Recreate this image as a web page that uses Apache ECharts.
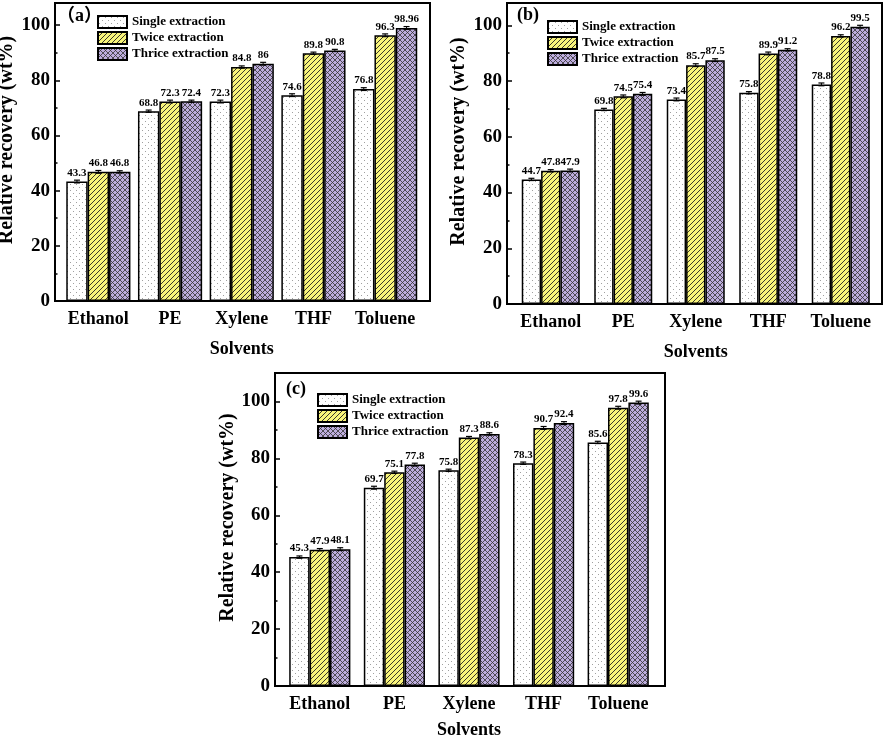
<!DOCTYPE html>
<html>
<head>
<meta charset="utf-8">
<script src="https://cdn.jsdelivr.net/npm/echarts@6/dist/echarts.min.js"></script>
<style>
html,body{margin:0;padding:0;background:#fff;}
#chart{width:886px;height:740px;}
</style>
</head>
<body>
<div id="chart"></div>
<script>
// ---------------- DATA ----------------
const categories = ['Ethanol', 'PE', 'Xylene', 'THF', 'Toluene'];
const seriesNames = ['Single extraction', 'Twice extraction', 'Thrice extraction'];
const yTickValues = [0, 20, 40, 60, 80, 100];
const yMinorTickValues = [10, 30, 50, 70, 90];

const aSingle = [43.3, 68.8, 72.3, 74.6, 76.8];
const aTwice  = [46.8, 72.3, 84.8, 89.8, 96.3];
const aThrice = [46.8, 72.4, 86, 90.8, 98.96];
const aSingleErr = [0.5, 0.4, 0.5, 0.5, 0.5];
const aTwiceErr  = [0.5, 0.5, 0.4, 0.4, 0.5];
const aThriceErr = [0.4, 0.4, 0.5, 0.4, 0.5];

const bSingle = [44.7, 69.8, 73.4, 75.8, 78.8];
const bTwice  = [47.8, 74.5, 85.7, 89.9, 96.2];
const bThrice = [47.9, 75.4, 87.5, 91.2, 99.5];
const bSingleErr = [0.4, 0.4, 0.5, 0.4, 0.5];
const bTwiceErr  = [0.4, 0.5, 0.5, 0.5, 0.4];
const bThriceErr = [0.5, 0.5, 0.5, 0.4, 0.5];

const cSingle = [45.3, 69.7, 75.8, 78.3, 85.6];
const cTwice  = [47.9, 75.1, 87.3, 90.7, 97.8];
const cThrice = [48.1, 77.8, 88.6, 92.4, 99.6];
const cSingleErr = [0.4, 0.5, 0.4, 0.4, 0.4];
const cTwiceErr  = [0.4, 0.4, 0.4, 0.5, 0.5];
const cThriceErr = [0.5, 0.5, 0.4, 0.5, 0.5];

const panelLabels = ['（a）', '(b)', '(c)'];
const xAxisTitle = 'Solvents';
const yAxisTitle = 'Relative recovery (wt%)';

// ---------------- LAYOUT / STYLE ----------------
const FONT = "'Liberation Serif', 'Times New Roman', serif";
const layouts = [
  { frame: {left: 55, top: 3, width: 375, height: 298}, inner: {left: 62.5, width: 358.5}, max: 108, gap: 0.105,
    legend: {left: 97, top: 15}, label: {left: 57, top: 7}, yNameGap: 38, xNameGap: 39 },
  { frame: {left: 507, top: 3, width: 375, height: 301}, inner: {left: 514.5, width: 362.5}, max: 108, gap: 0.20,
    legend: {left: 547, top: 20}, label: {left: 517, top: 6}, yNameGap: 38, xNameGap: 39 },
  { frame: {left: 275, top: 373, width: 390, height: 313}, inner: {left: 282.5, width: 373}, max: 110, gap: 0.18,
    legend: {left: 317, top: 393}, label: {left: 286, top: 380}, yNameGap: 37, xNameGap: 35 }
];
const panelData = [
  { values: [aSingle, aTwice, aThrice], errs: [aSingleErr, aTwiceErr, aThriceErr] },
  { values: [bSingle, bTwice, bThrice], errs: [bSingleErr, bTwiceErr, bThriceErr] },
  { values: [cSingle, cTwice, cThrice], errs: [cSingleErr, cTwiceErr, cThriceErr] }
];

// ---------------- PATTERNS ----------------
function dotPattern() {
  const c = document.createElement('canvas');
  c.width = 6; c.height = 6;
  const g = c.getContext('2d');
  g.fillStyle = '#ffffff'; g.fillRect(0, 0, 6, 6);
  g.fillStyle = '#a0a0a0';
  g.fillRect(1, 1, 1, 1);
  g.fillRect(4, 4, 1, 1);
  return c;
}
function hatchPattern() {
  const s = 5;
  const c = document.createElement('canvas');
  c.width = s; c.height = s;
  const g = c.getContext('2d');
  g.fillStyle = '#f8f47a'; g.fillRect(0, 0, s, s);
  g.strokeStyle = '#222'; g.lineWidth = 0.9;
  g.beginPath();
  g.moveTo(-1, s + 1); g.lineTo(s + 1, -1);
  g.moveTo(-1, 1); g.lineTo(1, -1);
  g.moveTo(s - 1, s + 1); g.lineTo(s + 1, s - 1);
  g.stroke();
  return c;
}
function crossPattern() {
  const s = 5;
  const c = document.createElement('canvas');
  c.width = s; c.height = s;
  const g = c.getContext('2d');
  g.fillStyle = '#bdaddd'; g.fillRect(0, 0, s, s);
  g.strokeStyle = '#333'; g.lineWidth = 0.8;
  g.beginPath();
  g.moveTo(-1, s + 1); g.lineTo(s + 1, -1);
  g.moveTo(-1, -1); g.lineTo(s + 1, s + 1);
  g.moveTo(-1, 1); g.lineTo(1, -1);
  g.moveTo(s - 1, s + 1); g.lineTo(s + 1, s - 1);
  g.moveTo(s - 1, -1); g.lineTo(s + 1, 1);
  g.moveTo(-1, s - 1); g.lineTo(1, s + 1);
  g.stroke();
  return c;
}
const fills = [
  { image: dotPattern(), repeat: 'repeat' },
  { image: hatchPattern(), repeat: 'repeat' },
  { image: crossPattern(), repeat: 'repeat' }
];

// ---------------- OPTION ----------------
const grid = [], xAxis = [], yAxis = [], series = [], legend = [], title = [];

layouts.forEach((L, p) => {
  const fIdx = grid.length;
  grid.push({ left: L.frame.left, top: L.frame.top, width: L.frame.width, height: L.frame.height,
              show: true, borderColor: '#000', borderWidth: 2, backgroundColor: 'transparent',
              outerBoundsMode: 'none', containLabel: false });
  const iIdx = grid.length;
  grid.push({ left: L.inner.left, top: L.frame.top, width: L.inner.width, height: L.frame.height, show: false,
              outerBoundsMode: 'none', containLabel: false });

  xAxis.push({ gridIndex: fIdx, type: 'value', min: 0, max: 1, show: false });
  yAxis.push({
    gridIndex: fIdx, type: 'value', min: 0, max: L.max, position: 'left',
    name: yAxisTitle, nameLocation: 'middle', nameGap: L.yNameGap,
    nameTextStyle: { fontFamily: FONT, fontWeight: 'bold', fontSize: 20, color: '#000', padding: [0, 0, 0, 24] },
    axisLine: { show: true, lineStyle: { color: '#000', width: 2 } },
    axisTick: { show: true, inside: true, length: 5, customValues: yTickValues, lineStyle: { color: '#000', width: 1.5 } },
    axisLabel: { show: true, customValues: yTickValues, fontFamily: FONT, fontWeight: 'bold', fontSize: 19, color: '#000', margin: 5 },
    splitLine: { show: false }
  });
  yAxis.push({
    gridIndex: fIdx, type: 'value', min: 0, max: L.max, position: 'left', offset: 0,
    axisLine: { show: false },
    axisTick: { show: true, inside: true, length: 2.5, customValues: yMinorTickValues, lineStyle: { color: '#000', width: 1.5 } },
    axisLabel: { show: false },
    splitLine: { show: false }
  });

  const ix = xAxis.length;
  xAxis.push({
    gridIndex: iIdx, type: 'category', data: categories,
    name: xAxisTitle, nameLocation: 'middle', nameGap: L.xNameGap,
    nameTextStyle: { fontFamily: FONT, fontWeight: 'bold', fontSize: 18, color: '#000' },
    axisLine: { show: false }, axisTick: { show: false },
    axisLabel: { fontFamily: FONT, fontWeight: 'bold', fontSize: 18, color: '#000', margin: 9, interval: 0 }
  });
  const iy = yAxis.length;
  yAxis.push({ gridIndex: iIdx, type: 'value', min: 0, max: L.max, show: false, splitLine: { show: false } });

  const D = panelData[p];
  seriesNames.forEach((name, k) => {
    series.push({
      type: 'bar', name: name, xAxisIndex: ix, yAxisIndex: iy,
      data: D.values[k], barGap: '0%', barCategoryGap: (L.gap * 100) + '%',
      itemStyle: { color: fills[k], borderColor: '#000', borderWidth: 1.5 },
      label: { show: true, position: 'top', distance: 3, fontFamily: FONT, fontWeight: 'bold',
               fontSize: 11, color: '#000', formatter: (prm) => String(prm.value) },
      emphasis: { disabled: true }, z: 2
    });
  });

  seriesNames.forEach((name, k) => {
    const errData = D.values[k].map((v, i) => [i, v, D.errs[k][i]]);
    series.push({
      type: 'custom', xAxisIndex: ix, yAxisIndex: iy, data: errData, z: 5, silent: true,
      renderItem: function (params, api) {
        const idx = api.value(0), v = api.value(1), e = api.value(2);
        const band = api.size([1, 0])[0];
        const bw = band * (1 - L.gap) / 3;
        const c = api.coord([idx, v]);
        const x = c[0] + (k - 1) * bw;
        const top = api.coord([idx, v + e])[1];
        const bot = api.coord([idx, v - e])[1];
        const hw = 3;
        return { type: 'group', children: [
          { type: 'line', shape: { x1: x, y1: top, x2: x, y2: bot }, style: { stroke: '#000', lineWidth: 1 } },
          { type: 'line', shape: { x1: x - hw, y1: top, x2: x + hw, y2: top }, style: { stroke: '#000', lineWidth: 1.2 } },
          { type: 'line', shape: { x1: x - hw, y1: bot, x2: x + hw, y2: bot }, style: { stroke: '#000', lineWidth: 1.2 } }
        ]};
      }
    });
  });

  legend.push({
    data: seriesNames, orient: 'vertical', left: L.legend.left, top: L.legend.top,
    itemWidth: 29, itemHeight: 12, itemGap: 2, padding: 0, icon: 'rect', selectedMode: false,
    textStyle: { fontFamily: FONT, fontWeight: 'bold', fontSize: 13, lineHeight: 13, color: '#000' }
  });
  title.push({
    text: panelLabels[p], left: L.label.left, top: L.label.top, padding: 0,
    textStyle: { fontFamily: FONT + ", 'Noto Sans CJK SC'", fontWeight: 'bold', fontSize: 18, color: '#000' }
  });
});

const chart = echarts.init(document.getElementById('chart'), null, { renderer: 'canvas' });
chart.setOption({ animation: false, backgroundColor: '#fff', title, grid, xAxis, yAxis, legend, series });
</script>
</body>
</html>
